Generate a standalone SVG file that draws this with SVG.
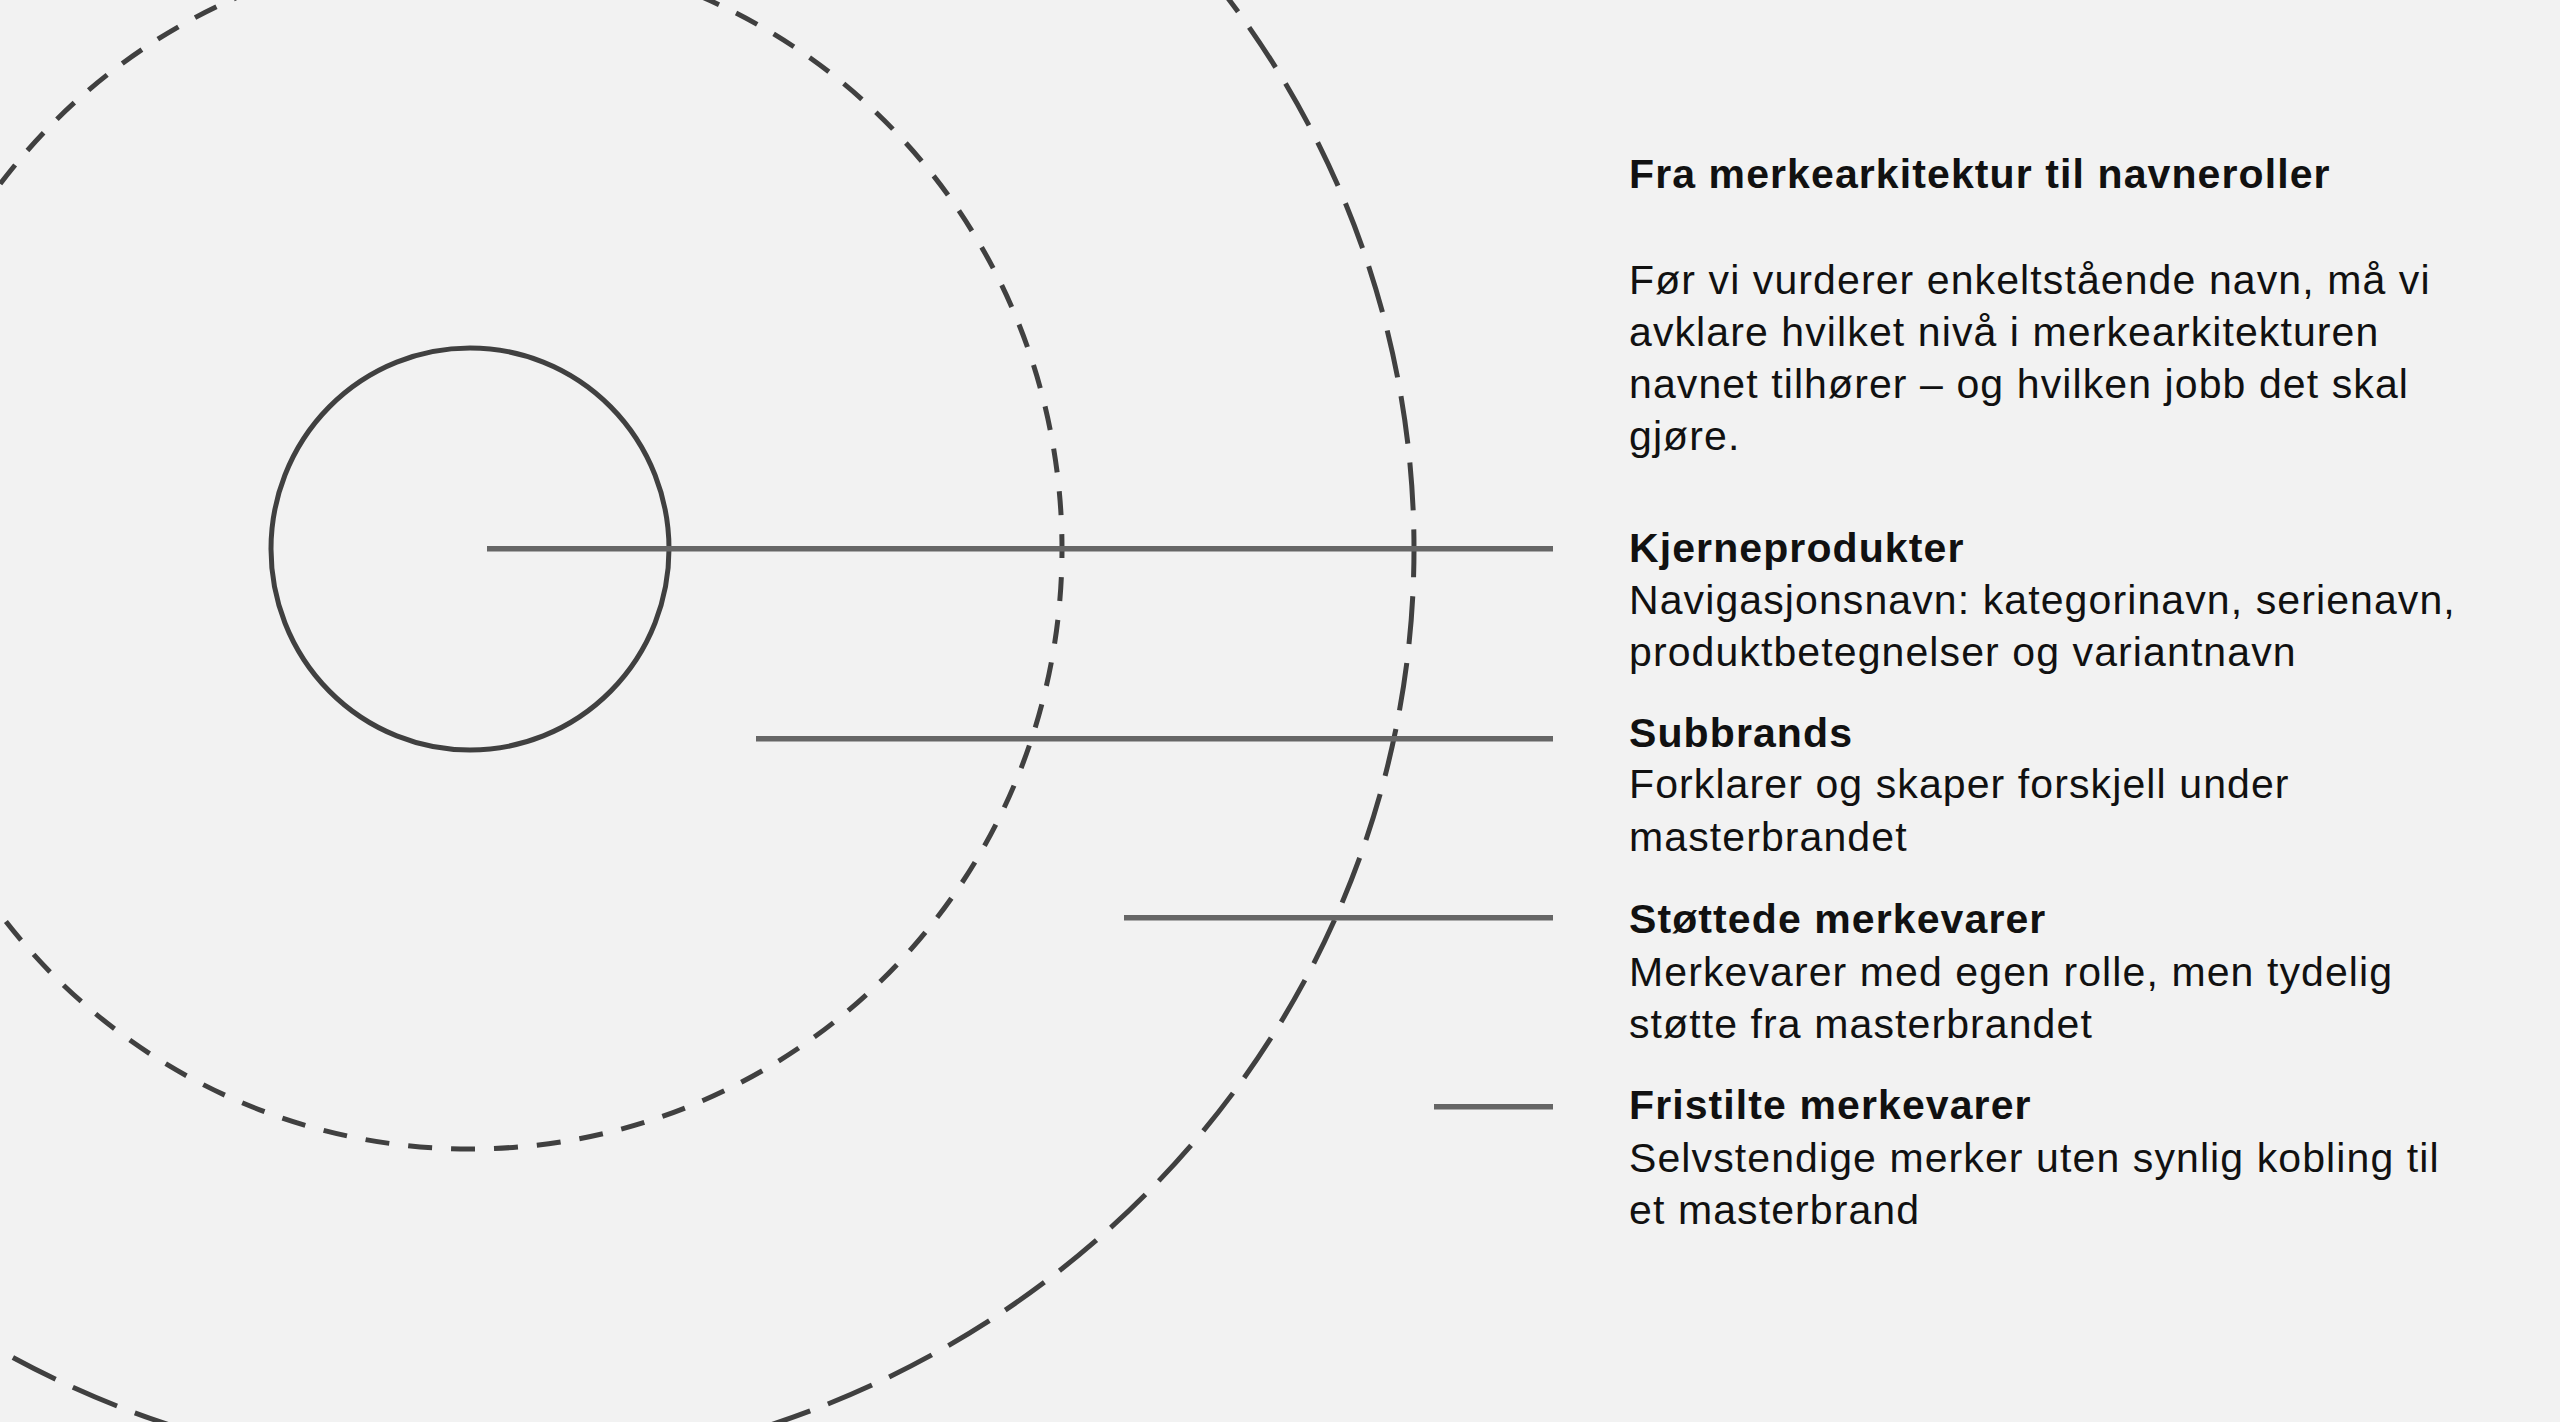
<svg xmlns="http://www.w3.org/2000/svg" width="2560" height="1422" viewBox="0 0 2560 1422">
  <style>
    .ring { fill: none; stroke: #404040; stroke-width: 5; }
    .ring-mid { stroke-dasharray: 24 19; stroke-dashoffset: 24.8; }
    .ring-out { stroke-dasharray: 48 19; stroke-dashoffset: 35.3; }
    .conn { stroke: #666666; stroke-width: 5.5; fill: none; }
    .t { font-family: "Liberation Sans", Arial, Helvetica, sans-serif; font-size: 41px; letter-spacing: 1.1px; fill: #111111; }
    .b { font-weight: bold; }
  </style>
  <rect x="0" y="0" width="2560" height="1422" fill="#f2f2f2"/>

  <g id="ring-outer">
    <path class="ring ring-out" d="M 470 1473 A 944 924 0 0 0 470 -375 A 944 924 0 0 0 470 1473 Z"/>
  </g>
  <g id="ring-middle">
    <path class="ring ring-mid" d="M 470 -51 A 592 600 0 0 1 470 1149 A 592 600 0 0 1 470 -51 Z"/>
  </g>
  <g id="core">
    <ellipse class="ring" cx="470" cy="549" rx="199" ry="201"/>
  </g>

  <g id="connectors">
    <line class="conn" x1="487" y1="548.7" x2="1553" y2="548.7"/>
    <line class="conn" x1="756" y1="738.7" x2="1553" y2="738.7"/>
    <line class="conn" x1="1124" y1="917.7" x2="1553" y2="917.7"/>
    <line class="conn" x1="1434" y1="1106.7" x2="1553" y2="1106.7"/>
  </g>

  <g id="intro">
    <text class="t b" x="1629" y="188">Fra merkearkitektur til navneroller</text>
    <text class="t" x="1629" y="294">Før vi vurderer enkeltstående navn, må vi</text>
    <text class="t" x="1629" y="346">avklare hvilket nivå i merkearkitekturen</text>
    <text class="t" x="1629" y="398">navnet tilhører – og hvilken jobb det skal</text>
    <text class="t" x="1629" y="450">gjøre.</text>
  </g>

  <g id="kjerneprodukter">
    <text class="t b" x="1629" y="561.5">Kjerneprodukter</text>
    <text class="t" x="1629" y="613.5">Navigasjonsnavn: kategorinavn, serienavn,</text>
    <text class="t" x="1629" y="665.5">produktbetegnelser og variantnavn</text>
  </g>

  <g id="subbrands">
    <text class="t b" x="1629" y="747">Subbrands</text>
    <text class="t" x="1629" y="798">Forklarer og skaper forskjell under</text>
    <text class="t" x="1629" y="850.5">masterbrandet</text>
  </g>

  <g id="stottede-merkevarer">
    <text class="t b" x="1629" y="933">Støttede merkevarer</text>
    <text class="t" x="1629" y="985.5">Merkevarer med egen rolle, men tydelig</text>
    <text class="t" x="1629" y="1037.5">støtte fra masterbrandet</text>
  </g>

  <g id="fristilte-merkevarer">
    <text class="t b" x="1629" y="1119">Fristilte merkevarer</text>
    <text class="t" x="1629" y="1171.5">Selvstendige merker uten synlig kobling til</text>
    <text class="t" x="1629" y="1223.5">et masterbrand</text>
  </g>
</svg>
